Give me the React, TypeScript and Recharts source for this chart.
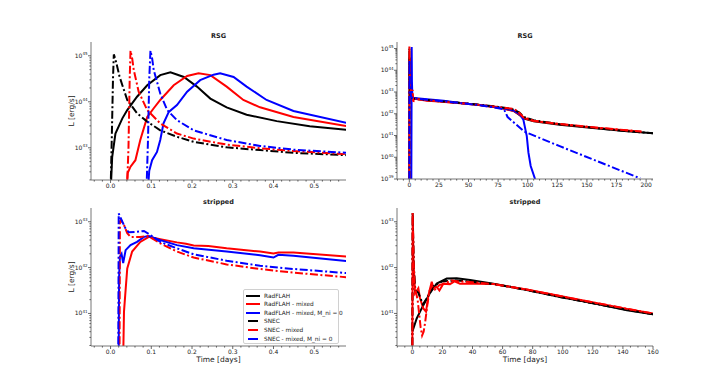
import React from 'react'
import { LineChart, Line, XAxis, YAxis } from 'recharts'

// each point is [time in days, log10 of L in erg/s]
type Pt = [number, number]

// RSG, first 0.6 days
const rsgEarlyRadflah: Pt[] = [[0.0, 42.0], [0.004, 42.8], [0.012, 43.31], [0.029, 43.64], [0.041, 43.82], [0.065, 44.11], [0.09, 44.36], [0.122, 44.58], [0.147, 44.64], [0.18, 44.54], [0.212, 44.33], [0.245, 44.07], [0.285, 43.88], [0.334, 43.72], [0.408, 43.58], [0.489, 43.47], [0.58, 43.39]]
const rsgEarlyRadflahMixed: Pt[] = [[0.039, 42.0], [0.042, 42.45], [0.049, 42.59], [0.061, 42.73], [0.073, 43.17], [0.09, 43.67], [0.106, 43.86], [0.122, 44.04], [0.155, 44.36], [0.188, 44.56], [0.216, 44.62], [0.245, 44.58], [0.285, 44.33], [0.326, 44.04], [0.367, 43.88], [0.449, 43.67], [0.58, 43.47]]
const rsgEarlyRadflahNoNi: Pt[] = [[0.091, 42.0], [0.095, 42.5], [0.102, 42.73], [0.114, 42.91], [0.122, 43.17], [0.13, 43.53], [0.143, 43.78], [0.163, 43.93], [0.188, 44.22], [0.22, 44.47], [0.253, 44.59], [0.269, 44.62], [0.302, 44.54], [0.334, 44.33], [0.383, 44.04], [0.449, 43.8], [0.58, 43.54]]
const rsgEarlySnec: Pt[] = [[0.0, 42.0], [0.003, 43.2], [0.006, 44.5], [0.008, 45.03], [0.011, 44.95], [0.016, 44.78], [0.022, 44.55], [0.029, 44.36], [0.041, 44.04], [0.065, 43.75], [0.09, 43.57], [0.122, 43.38], [0.163, 43.24], [0.204, 43.13], [0.285, 43.01], [0.367, 42.95], [0.449, 42.89], [0.58, 42.84]]
const rsgEarlySnecMixed: Pt[] = [[0.04, 42.0], [0.044, 43.0], [0.047, 44.5], [0.049, 45.11], [0.053, 44.95], [0.057, 44.69], [0.069, 44.22], [0.09, 43.82], [0.122, 43.53], [0.163, 43.31], [0.204, 43.2], [0.285, 43.07], [0.367, 42.99], [0.449, 42.93], [0.58, 42.86]]
const rsgEarlySnecNoNi: Pt[] = [[0.088, 42.0], [0.092, 43.2], [0.095, 44.5], [0.098, 45.11], [0.102, 44.95], [0.106, 44.69], [0.122, 44.18], [0.139, 43.82], [0.163, 43.6], [0.204, 43.38], [0.285, 43.17], [0.367, 43.04], [0.449, 42.96], [0.58, 42.89]]

// RSG, full light curve
const rsgLateRadflah: Pt[] = [[0, 39.0], [0.15, 44.55], [0.6, 43.4], [2, 42.85], [4, 42.7], [15, 42.62], [29, 42.56], [43, 42.49], [57, 42.42], [71, 42.32], [80, 42.24], [88, 42.14], [93, 41.95], [97, 41.78], [105, 41.66], [127, 41.5], [155, 41.35], [184, 41.2], [206, 41.1]]
const rsgLateRadflahMixed: Pt[] = [[0.04, 39.0], [0.22, 44.6], [1, 43.3], [2, 42.8], [3.5, 42.7], [15, 42.6], [29, 42.55], [43, 42.48], [57, 42.41], [71, 42.31], [80, 42.23], [88, 42.13], [93, 41.96], [97, 41.8], [105, 41.67], [127, 41.52], [155, 41.37], [184, 41.23], [196, 41.17]]
const rsgLateRadflahNoNi: Pt[] = [[1.7, 39.0], [1.9, 42.5], [2.0, 45.07], [2.2, 43.5], [2.6, 42.75], [4, 42.72], [15, 42.67], [29, 42.6], [43, 42.5], [57, 42.42], [71, 42.32], [80, 42.25], [88, 42.15], [93, 42.0], [96.3, 41.73], [99.2, 40.97], [100.6, 40.21], [102.5, 39.6], [106.2, 39.0]]
const rsgLateSnec: Pt[] = [[0, 39.0], [0.008, 45.0], [0.1, 43.4], [1, 42.85], [3, 42.7], [15, 42.63], [29, 42.56], [43, 42.5], [57, 42.43], [71, 42.35], [80, 42.28], [88, 42.2], [93, 42.05], [97, 41.85], [105, 41.7], [127, 41.52], [155, 41.36], [184, 41.2], [206, 41.1]]
const rsgLateSnecMixed: Pt[] = [[0.04, 39.0], [0.049, 45.1], [0.5, 43.3], [2, 42.75], [2.8, 43.1], [3.3, 42.5], [4, 42.7], [15, 42.62], [29, 42.55], [43, 42.49], [57, 42.42], [71, 42.33], [80, 42.28], [88, 42.22], [92, 42.1], [96, 41.85], [105, 41.68], [127, 41.53], [155, 41.38], [184, 41.24], [196, 41.18]]
const rsgLateSnecNoNi: Pt[] = [[0, 39.0], [0.1, 44.47], [0.5, 43.2], [1.5, 42.8], [3, 42.72], [15, 42.64], [29, 42.57], [43, 42.49], [57, 42.41], [71, 42.3], [80, 42.2], [83, 41.85], [97, 41.18], [127, 40.51], [155, 39.9], [183, 39.29], [195, 39.03]]

// stripped, first 0.6 days
const strEarlyRadflahMixed: Pt[] = [[0.031, 40.0], [0.033, 41.04], [0.036, 41.4], [0.041, 41.98], [0.053, 42.35], [0.073, 42.56], [0.094, 42.67], [0.122, 42.62], [0.163, 42.55], [0.185, 42.52], [0.204, 42.48], [0.24, 42.47], [0.285, 42.42], [0.367, 42.35], [0.4, 42.31], [0.412, 42.33], [0.449, 42.33], [0.58, 42.24]]
const strEarlyRadflahNoNi: Pt[] = [[0.02, 40.0], [0.021, 41.8], [0.023, 42.24], [0.027, 42.3], [0.031, 42.1], [0.037, 42.38], [0.049, 42.49], [0.065, 42.56], [0.082, 42.67], [0.094, 42.69], [0.122, 42.6], [0.163, 42.49], [0.204, 42.42], [0.285, 42.35], [0.367, 42.27], [0.4, 42.22], [0.412, 42.28], [0.449, 42.26], [0.58, 42.14]]
const strEarlySnecMixed: Pt[] = [[0.022, 40.0], [0.023, 43.0], [0.025, 43.04], [0.033, 42.93], [0.041, 42.75], [0.049, 42.67], [0.073, 42.67], [0.09, 42.69], [0.098, 42.66], [0.122, 42.53], [0.163, 42.35], [0.204, 42.22], [0.285, 42.07], [0.367, 41.97], [0.449, 41.89], [0.58, 41.79]]
const strEarlySnecNoNi: Pt[] = [[0.019, 40.0], [0.02, 43.18], [0.024, 43.1], [0.029, 43.0], [0.037, 42.85], [0.045, 42.77], [0.065, 42.78], [0.082, 42.8], [0.098, 42.71], [0.122, 42.56], [0.163, 42.42], [0.204, 42.29], [0.285, 42.15], [0.367, 42.04], [0.449, 41.97], [0.58, 41.88]]

// stripped, full light curve
const strLateRadflah: Pt[] = [[0, 40.6], [2.9, 40.89], [5.3, 41.05], [7.3, 41.18], [11.8, 41.45], [16.2, 41.65], [22.9, 41.76], [29.5, 41.77], [38.4, 41.73], [53.9, 41.65], [65, 41.58], [76.1, 41.51], [98.3, 41.36], [120.5, 41.22], [142.7, 41.07], [160, 40.98]]
const strLateRadflahMixed: Pt[] = [[0, 40.3], [0.3, 43.15], [0.8, 42.13], [1.8, 41.44], [3, 41.5], [4, 41.55], [5.1, 41.33], [7.3, 41.11], [9.1, 41.04], [10.7, 41.4], [12.9, 41.69], [14, 41.55], [16.2, 41.58], [18, 41.5], [20.6, 41.65], [25, 41.64], [28, 41.7], [31.7, 41.65], [42.8, 41.65], [53.9, 41.64], [76.1, 41.52], [98.3, 41.38], [120.5, 41.24], [142.7, 41.1], [160, 41.0]]
const strLateSnec: Pt[] = [[0, 40.3], [0.2, 43.19], [1, 42.0], [2, 41.5], [4, 41.45], [7, 41.2], [10, 41.35], [14, 41.6], [20, 41.7], [30, 41.72], [40, 41.69], [54, 41.64], [65, 41.58], [76, 41.51], [98, 41.36], [120, 41.22], [143, 41.08], [160, 40.98]]
const strLateSnecMixed: Pt[] = [[0, 40.3], [0.2, 43.19], [0.8, 42.2], [1.5, 41.6], [2.5, 41.45], [3.5, 41.3], [4.5, 41.0], [5.5, 40.7], [6.5, 40.52], [7.5, 40.6], [8.5, 40.8], [10, 41.2], [11.5, 41.5], [13, 41.6], [15, 41.52], [18, 41.62], [22, 41.66], [26, 41.72], [30, 41.7], [40, 41.68], [54, 41.64], [76, 41.52], [98, 41.38], [120, 41.24], [143, 41.1], [160, 41.0]]

// major ticks
const earlyTimeTicks = [0.0, 0.1, 0.2, 0.3, 0.4, 0.5]
const rsgLateTimeTicks = [0, 25, 50, 75, 100, 125, 150, 175, 200]
const strLateTimeTicks = [0, 20, 40, 60, 80, 100, 120, 140, 160]
const rsgEarlyExps = [43, 44, 45]
const rsgLateExps = [39, 40, 41, 42, 43, 44, 45]
const strExps = [41, 42, 43]

const LEGEND_NAMES = ['RadFLAH', 'RadFLAH - mixed', 'RadFLAH - mixed, M_ni = 0', 'SNEC', 'SNEC - mixed', 'SNEC - mixed, M_ni = 0']

const BLACK = '#000000'
const RED = '#ff0000'
const BLUE = '#0000ff'
const FRAME = '#777777'
const TEXT = '#222222'
const DASH_DOT = '8 2.5 2 2.5'
const FONT = '"DejaVu Sans", sans-serif'

interface Series {
  pts: Pt[]
  color: string
  dashed: boolean
}

const toRows = (pts: Pt[]) => pts.map(([t, lg]) => ({ t, L: Math.pow(10, lg) }))

function minorLinear(domain: [number, number], step: number) {
  const out: number[] = []
  const a = Math.ceil(domain[0] / step)
  const b = Math.floor(domain[1] / step)
  for (let i = a; i <= b; i++) out.push(Math.round(i * step * 1e6) / 1e6)
  return out
}

function minorLog(lo: number, hi: number) {
  const out: number[] = []
  for (let e = Math.floor(lo); e <= Math.ceil(hi); e++) {
    for (let m = 2; m <= 9; m++) {
      const v = m * Math.pow(10, e)
      if (Math.log10(v) >= lo && Math.log10(v) <= hi) out.push(v)
    }
  }
  return out
}

interface PanelProps {
  left: number
  top: number
  w: number
  h: number
  xDomain: [number, number]
  xMajor: number[]
  xMinorStep: number
  xDigits: number
  yLo: number
  yHi: number
  yExps: number[]
  series: Series[]
}

function Panel({ left, top, w, h, xDomain, xMajor, xMinorStep, xDigits, yLo, yHi, yExps, series }: PanelProps) {
  const yAxisW = 40
  const xAxisH = 16
  const padR = 14
  const yDomain: [number, number] = [Math.pow(10, yLo), Math.pow(10, yHi)]
  const xTicks = minorLinear(xDomain, xMinorStep)
  const yMajorVals = yExps.map(e => Math.pow(10, e))
  const yTicks = [...yMajorVals, ...minorLog(yLo, yHi)].sort((a, b) => a - b)
  const isMajorX = (v: number) => xMajor.some(m => Math.abs(m - v) < 1e-6)
  const isMajorY = (v: number) => yMajorVals.some(m => Math.abs(m / v - 1) < 1e-6)

  const XTick = (props: any) => {
    const { x, y, payload } = props
    const major = isMajorX(payload.value)
    return (
      <g>
        <line x1={x} x2={x} y1={y} y2={y + (major ? 3 : 1.6)} stroke="#444" strokeWidth={0.8} />
        {major && (
          <text x={x} y={y + 8} textAnchor="middle" fontSize={6} fill={TEXT} fontFamily={FONT}>
            {payload.value.toFixed(xDigits)}
          </text>
        )}
      </g>
    )
  }

  const YTick = (props: any) => {
    const { x, y, payload } = props
    const major = isMajorY(payload.value)
    return (
      <g>
        <line x1={x} x2={x - (major ? 3 : 1.6)} y1={y} y2={y} stroke="#444" strokeWidth={0.8} />
        {major && (
          <text x={x - 3.5} y={y + 2} textAnchor="end" fontSize={6} fill={TEXT} fontFamily={FONT}>
            <tspan>10</tspan>
            <tspan dy={-2.6} fontSize={4}>{Math.round(Math.log10(payload.value))}</tspan>
          </text>
        )}
      </g>
    )
  }

  return (
    <div style={{ position: 'absolute', left: left - yAxisW, top: top - 2 }}>
      <LineChart
        width={w + yAxisW + padR}
        height={h + 2 + xAxisH}
        margin={{ top: 2, right: padR, bottom: 0, left: 0 }}
      >
        <XAxis
          dataKey="t"
          type="number"
          domain={xDomain}
          allowDataOverflow
          ticks={xTicks}
          interval={0}
          tick={XTick}
          tickLine={false}
          tickSize={0}
          tickMargin={0}
          height={xAxisH}
          axisLine={{ stroke: FRAME }}
        />
        <XAxis xAxisId="top" orientation="top" type="number" domain={[0, 1]} height={0} tick={false} tickLine={false} axisLine={{ stroke: FRAME }} />
        <YAxis
          type="number"
          scale="log"
          domain={yDomain}
          allowDataOverflow
          ticks={yTicks}
          interval={0}
          tick={YTick}
          tickLine={false}
          tickSize={0}
          tickMargin={0}
          width={yAxisW}
          axisLine={{ stroke: FRAME }}
        />
        <YAxis yAxisId="right" orientation="right" type="number" domain={[0, 1]} width={0} tick={false} tickLine={false} axisLine={{ stroke: FRAME }} />
        {series.map((s, i) => (
          <Line
            key={i}
            data={toRows(s.pts)}
            dataKey="L"
            type="linear"
            stroke={s.color}
            strokeWidth={2}
            strokeDasharray={s.dashed ? DASH_DOT : undefined}
            dot={false}
            activeDot={false}
            isAnimationActive={false}
          />
        ))}
      </LineChart>
    </div>
  )
}

const label: React.CSSProperties = { position: 'absolute', fontFamily: FONT, color: TEXT, whiteSpace: 'nowrap' }

function Title({ x, y, text }: { x: number; y: number; text: string }) {
  return <div style={{ ...label, left: x, top: y, transform: 'translate(-50%, -50%)', fontSize: 6.5, fontWeight: 'bold' }}>{text}</div>
}

function YLabel({ x, y }: { x: number; y: number }) {
  return <div style={{ ...label, left: x, top: y, transform: 'translate(-50%, -50%) rotate(-90deg)', fontSize: 7.5 }}>L [erg/s]</div>
}

function XLabel({ x, y }: { x: number; y: number }) {
  return <div style={{ ...label, left: x, top: y, transform: 'translate(-50%, -50%)', fontSize: 7.5 }}>Time [days]</div>
}

function LegendBox() {
  const colors = [BLACK, RED, BLUE, BLACK, RED, BLUE]
  return (
    <div style={{ position: 'absolute', left: 243, top: 289, width: 96, height: 55, border: '1px solid #d0d0d0', borderRadius: 2, background: 'rgba(255,255,255,0.85)', boxSizing: 'border-box' }}>
      {LEGEND_NAMES.map((name, i) => (
        <div key={name} style={{ position: 'absolute', left: 1, top: 1.5 + i * 8.6, height: 8, display: 'flex', alignItems: 'center', whiteSpace: 'nowrap' }}>
          <svg width={17} height={8} style={{ flex: 'none' }}>
            <line x1={i < 3 ? 1 : 3} x2={i < 3 ? 15 : 13} y1={4} y2={4} stroke={colors[i]} strokeWidth={2} />
          </svg>
          <span style={{ fontFamily: FONT, fontSize: 5.8, color: TEXT, marginLeft: 2, whiteSpace: 'nowrap' }}>{name}</span>
        </div>
      ))}
    </div>
  )
}

export default function App() {
  const rsgEarly: Series[] = [
    { pts: rsgEarlyRadflah, color: BLACK, dashed: false },
    { pts: rsgEarlyRadflahMixed, color: RED, dashed: false },
    { pts: rsgEarlyRadflahNoNi, color: BLUE, dashed: false },
    { pts: rsgEarlySnec, color: BLACK, dashed: true },
    { pts: rsgEarlySnecMixed, color: RED, dashed: true },
    { pts: rsgEarlySnecNoNi, color: BLUE, dashed: true },
  ]
  const rsgLate: Series[] = [
    { pts: rsgLateRadflah, color: BLACK, dashed: false },
    { pts: rsgLateRadflahMixed, color: RED, dashed: false },
    { pts: rsgLateRadflahNoNi, color: BLUE, dashed: false },
    { pts: rsgLateSnec, color: BLACK, dashed: true },
    { pts: rsgLateSnecMixed, color: RED, dashed: true },
    { pts: rsgLateSnecNoNi, color: BLUE, dashed: true },
  ]
  const strEarly: Series[] = [
    { pts: strEarlyRadflahMixed, color: RED, dashed: false },
    { pts: strEarlyRadflahNoNi, color: BLUE, dashed: false },
    { pts: strEarlySnecMixed, color: RED, dashed: true },
    { pts: strEarlySnecNoNi, color: BLUE, dashed: true },
  ]
  const strLate: Series[] = [
    { pts: strLateRadflah, color: BLACK, dashed: false },
    { pts: strLateRadflahMixed, color: RED, dashed: false },
    { pts: strLateSnec, color: BLACK, dashed: true },
    { pts: strLateSnecMixed, color: RED, dashed: true },
  ]

  return (
    <div style={{ position: 'absolute', left: 0, top: 0, width: 707, height: 380, background: '#fff', overflow: 'hidden' }}>
      <Panel left={91} top={42} w={255} h={138} xDomain={[-0.048, 0.578]} xMajor={earlyTimeTicks} xMinorStep={0.02} xDigits={1} yLo={42.3} yHi={45.3} yExps={rsgEarlyExps} series={rsgEarly} />
      <Panel left={397} top={42} w={256} h={137} xDomain={[-10.4, 205.8]} xMajor={rsgLateTimeTicks} xMinorStep={5} xDigits={0} yLo={39} yHi={45.3} yExps={rsgLateExps} series={rsgLate} />
      <Panel left={91} top={208} w={255} h={138} xDomain={[-0.048, 0.578]} xMajor={earlyTimeTicks} xMinorStep={0.02} xDigits={1} yLo={40.29} yHi={43.3} yExps={strExps} series={strEarly} />
      <Panel left={397} top={208} w={256} h={138} xDomain={[-10.2, 160]} xMajor={strLateTimeTicks} xMinorStep={5} xDigits={0} yLo={40.29} yHi={43.3} yExps={strExps} series={strLate} />
      <Title x={218.5} y={36} text="RSG" />
      <Title x={525} y={36} text="RSG" />
      <Title x={218.5} y={202} text="stripped" />
      <Title x={525} y={202} text="stripped" />
      <YLabel x={70.5} y={111} />
      <YLabel x={70.5} y={277} />
      <XLabel x={218.5} y={359} />
      <XLabel x={525} y={359} />
      <LegendBox />
    </div>
  )
}
